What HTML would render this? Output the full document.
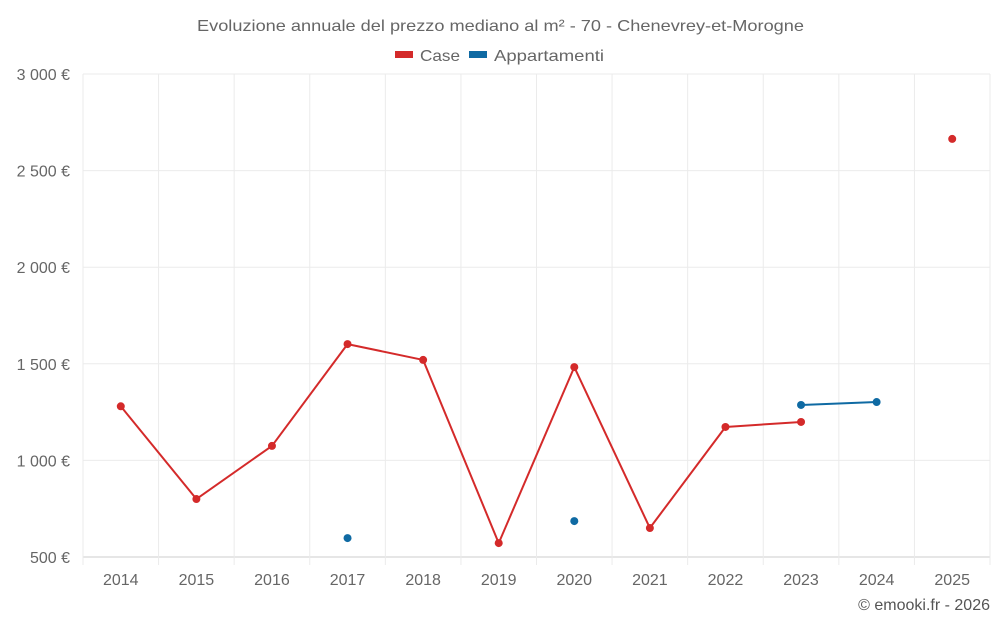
<!DOCTYPE html>
<html><head><meta charset="utf-8"><style>
body{margin:0;background:#fff;font-family:"Liberation Sans",sans-serif;}
svg text{font-family:"Liberation Sans",sans-serif;}
</style></head><body>
<svg id="chart" width="1000" height="625" xmlns="http://www.w3.org/2000/svg">
<text x="197" y="31" textLength="607" lengthAdjust="spacingAndGlyphs" font-size="16" fill="#666">Evoluzione annuale del prezzo mediano al m² - 70 - Chenevrey-et-Morogne</text>
<g><rect x="395" y="51" width="18" height="7" fill="#d42a2a"/><text x="420" y="61" textLength="40" lengthAdjust="spacingAndGlyphs" font-size="16" fill="#666">Case</text></g>
<g><rect x="469" y="51" width="18" height="7" fill="#0f6aa3"/><text x="494" y="61" textLength="110" lengthAdjust="spacingAndGlyphs" font-size="16" fill="#666">Appartamenti</text></g>
<g id="grid"></g><g id="axes"></g><g id="series"></g>
<text x="990" y="610" text-anchor="end" font-size="16" fill="#555">© emooki.fr - 2026</text>
</svg>
<script>
const categories=["2014","2015","2016","2017","2018","2019","2020","2021","2022","2023","2024","2025"];
const caseValues=[1280,800,1075,1602,1520,572,1483,650,1173,1199,null,2664];
const apptValues=[null,null,null,598,null,null,686,null,null,1287,1302,null];
const yTicks=[500,1000,1500,2000,2500,3000];
const yTickLabels=["500 €","1 000 €","1 500 €","2 000 €","2 500 €","3 000 €"];
const L=83,R=990,T=74,B=557,yMin=500,yMax=3000;
const bw=(R-L)/categories.length;
const xs=i=>L+bw*(i+0.5);
const ys=v=>B-(v-yMin)/(yMax-yMin)*(B-T);
const NS="http://www.w3.org/2000/svg";
function mk(tag,attrs,parent,text){const e=document.createElementNS(NS,tag);for(const k in attrs)e.setAttribute(k,attrs[k]);if(text!==undefined)e.textContent=text;parent.appendChild(e);return e;}
const grid=document.getElementById('grid'),axes=document.getElementById('axes'),ser=document.getElementById('series');
yTicks.forEach((t,i)=>{
 const l=mk('line',{x1:L,x2:R,y1:ys(t),y2:ys(t),stroke:i==0?'#ccc':'#ebebeb','stroke-width':1},grid);
 
 
 const tx=mk('text',{x:70,y:ys(t)+6,'text-anchor':'end','font-size':16,fill:'#666'},axes,yTickLabels[i]);
 
 
});
for(let i=0;i<=categories.length;i++){
 const x=L+bw*i;
 const l=mk('line',{x1:x,x2:x,y1:T,y2:B+8,stroke:'#ebebeb','stroke-width':1},grid);
 
 
}
categories.forEach((c,i)=>{
 const tx=mk('text',{x:xs(i),y:585,'text-anchor':'middle','font-size':16,fill:'#666'},axes,c);
 
 
});
function drawSeries(vals,color,name){
 for(let i=0;i<vals.length-1;i++){
  if(vals[i]!=null&&vals[i+1]!=null){
   const l=mk('line',{x1:xs(i),y1:ys(vals[i]),x2:xs(i+1),y2:ys(vals[i+1]),stroke:color,'stroke-width':2},ser);
   
   
  }
 }
 vals.forEach((v,i)=>{if(v==null)return;
  const c=mk('circle',{cx:xs(i),cy:ys(v),r:4,fill:color},ser);
  
  
 });
}
drawSeries(caseValues,'#d42a2a','case');
drawSeries(apptValues,'#0f6aa3','appartamenti');
</script>
</body></html>
